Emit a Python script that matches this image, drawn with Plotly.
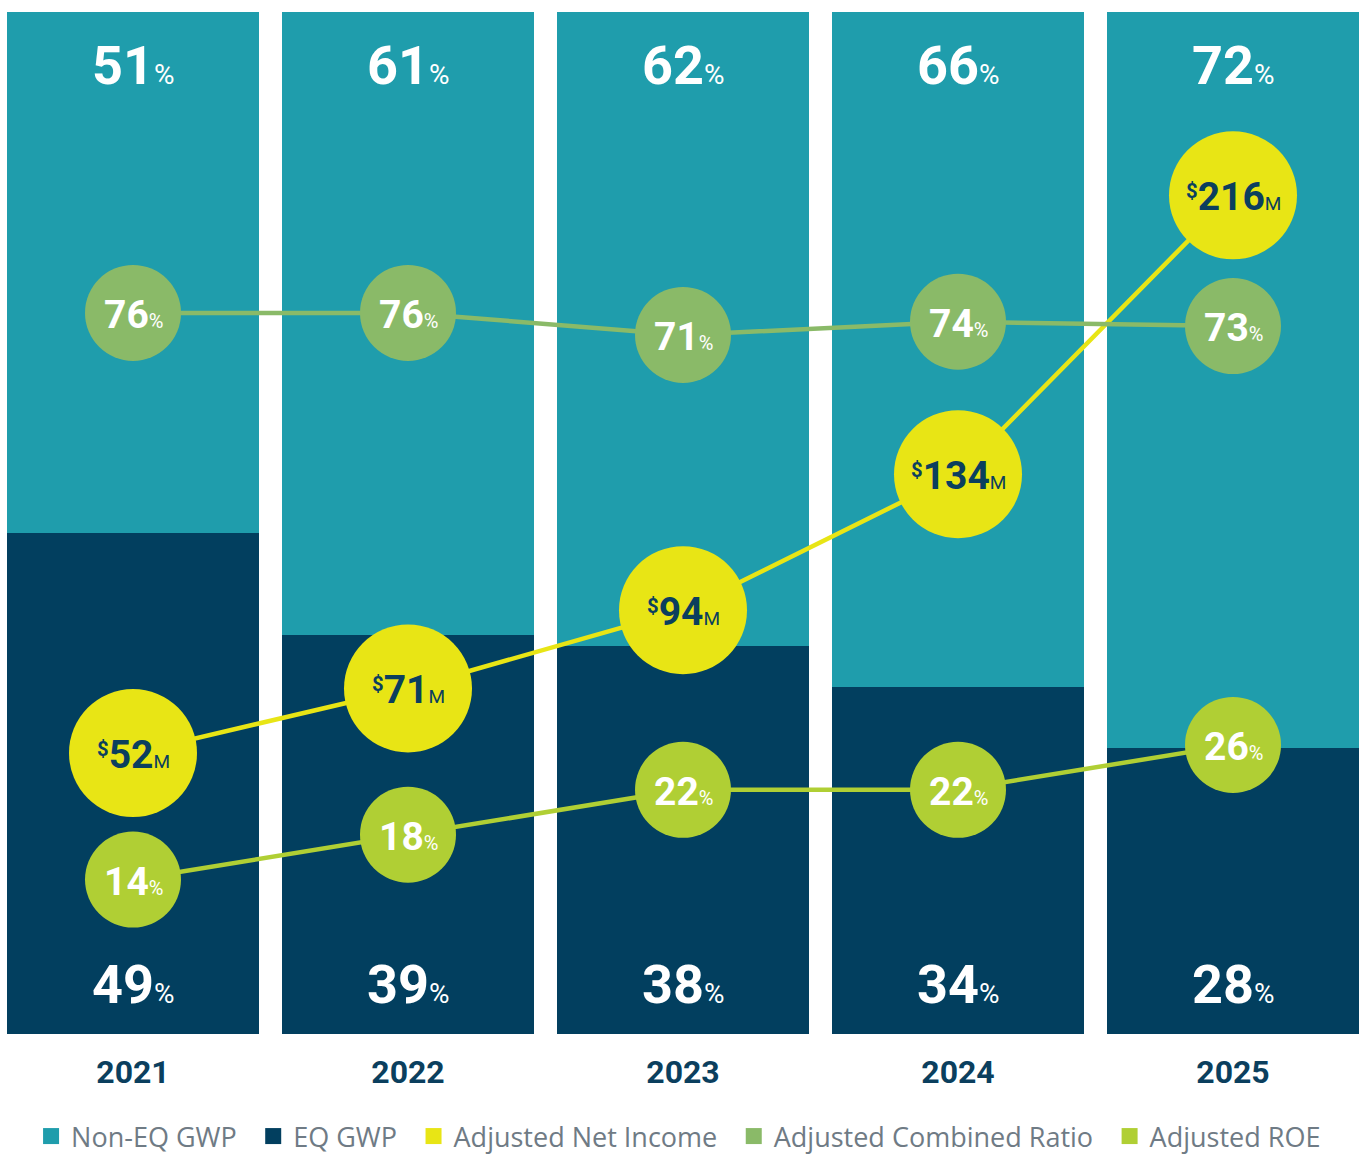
import plotly.graph_objects as go

years = ["2021", "2022", "2023", "2024", "2025"]
eq_gwp = [49, 39, 38, 34, 28]
non_eq_gwp = [51, 61, 62, 66, 72]
net_income = [52, 71, 94, 134, 216]
combined_ratio = [76, 76, 71, 74, 73]
roe = [14, 18, 22, 22, 26]
legend_names = ["Non-EQ GWP", "EQ GWP", "Adjusted Net Income", "Adjusted Combined Ratio", "Adjusted ROE"]

TEAL = "#1f9dac"
NAVY = "#023f5f"
YELLOW = "#e8e515"
CR_GREEN = "#8aba68"
ROE_GREEN = "#b0cf34"
TXT_NAVY = "#0b3f5e"
FONT = "Roboto"
NBSP = "\u00a0"
THIN = "\u2009"

fig = go.Figure()

fig.add_trace(go.Bar(x=years, y=eq_gwp, marker=dict(color=NAVY, line=dict(width=0)),
                     showlegend=False, hoverinfo="skip"))
fig.add_trace(go.Bar(x=years, y=non_eq_gwp, marker=dict(color=TEAL, line=dict(width=0)),
                     showlegend=False, hoverinfo="skip"))

def pct_label(v, pct_size):
    return f"<b>{v}</b><span style='font-size:{pct_size}px'>%</span>"

def money_label(v):
    return (f"<span style='font-size:29px'><sup><b>$</b></sup></span><b>{v}</b>"
            f"<span style='font-size:19px'>M</span>")

fig.add_trace(go.Scatter(
    x=years, y=combined_ratio, yaxis="y3", mode="lines+markers",
    line=dict(color=CR_GREEN, width=4.5),
    marker=dict(color=CR_GREEN, size=96, line=dict(width=0)),
    cliponaxis=False, showlegend=False, hoverinfo="skip"))

fig.add_trace(go.Scatter(
    x=years, y=roe, yaxis="y4", mode="lines+markers",
    line=dict(color=ROE_GREEN, width=4.5),
    marker=dict(color=ROE_GREEN, size=96, line=dict(width=0)),
    cliponaxis=False, showlegend=False, hoverinfo="skip"))

fig.add_trace(go.Scatter(
    x=years, y=net_income, yaxis="y2", mode="lines+markers",
    line=dict(color=YELLOW, width=4.5),
    marker=dict(color=YELLOW, size=128, line=dict(width=0)),
    cliponaxis=False, showlegend=False, hoverinfo="skip"))

legend_colors = [TEAL, NAVY, YELLOW, CR_GREEN, ROE_GREEN]
for name, col in zip(legend_names, legend_colors):
    fig.add_trace(go.Scatter(x=[None], y=[None], mode="markers", name=name + NBSP + THIN,
                             marker=dict(symbol="square", size=18, color=col)))

# bar value labels (x given as category index)
for i, (top, bot) in enumerate(zip(non_eq_gwp, eq_gwp)):
    fig.add_annotation(x=i, y=94.8, yref="y", text=pct_label(top, 28), showarrow=False,
                       font=dict(family=FONT, size=54, color="white"), yanchor="middle")
    fig.add_annotation(x=i, y=4.8, yref="y", text=pct_label(bot, 28), showarrow=False,
                       font=dict(family=FONT, size=54, color="white"), yanchor="middle")

# circle labels
for i, v in enumerate(combined_ratio):
    fig.add_annotation(x=i, y=v, yref="y3", text=pct_label(v, 20), showarrow=False,
                       font=dict(family=FONT, size=39, color="white"),
                       yanchor="middle", yshift=-2)
for i, v in enumerate(roe):
    fig.add_annotation(x=i, y=v, yref="y4", text=pct_label(v, 20), showarrow=False,
                       font=dict(family=FONT, size=39, color="white"),
                       yanchor="middle", yshift=-2)
for i, v in enumerate(net_income):
    fig.add_annotation(x=i, y=v, yref="y2", text=money_label(v), showarrow=False,
                       font=dict(family=FONT, size=39, color=TXT_NAVY),
                       yanchor="middle", yshift=-2)

fig.update_layout(
    width=1364, height=1155,
    margin=dict(l=7, r=5, t=12, b=121),
    paper_bgcolor="white", plot_bgcolor="white",
    barmode="stack", bargap=0.0836,
    xaxis=dict(type="category", range=[-0.4582, 4.4582], showgrid=False, zeroline=False, showline=False,
               ticks="outside", ticklen=10, tickcolor="rgba(0,0,0,0)", tickangle=0,
               tickfont=dict(family=FONT, size=32, color=TXT_NAVY),
               tickvals=years, ticktext=[f"<b>{y}</b>" for y in years]),
    yaxis=dict(range=[0, 100], visible=False, fixedrange=True),
    yaxis2=dict(range=[-30.6, 269.9], overlaying="y", visible=False),
    yaxis3=dict(range=[-87.9, 144.4], overlaying="y", visible=False),
    yaxis4=dict(range=[0.24, 91.3], overlaying="y", visible=False),
    legend=dict(orientation="h", x=0.0178, xanchor="left",
                yref="container", y=0.016, yanchor="middle",
                traceorder="normal",
                font=dict(family="Open Sans", size=27, color="#6f7b85"),
                itemsizing="trace", bgcolor="rgba(0,0,0,0)"),
    showlegend=True,
)

fig.write_html("out.html", config={"displayModeBar": False},
               post_script="document.body.style.margin='0';document.body.style.overflow='hidden';")
